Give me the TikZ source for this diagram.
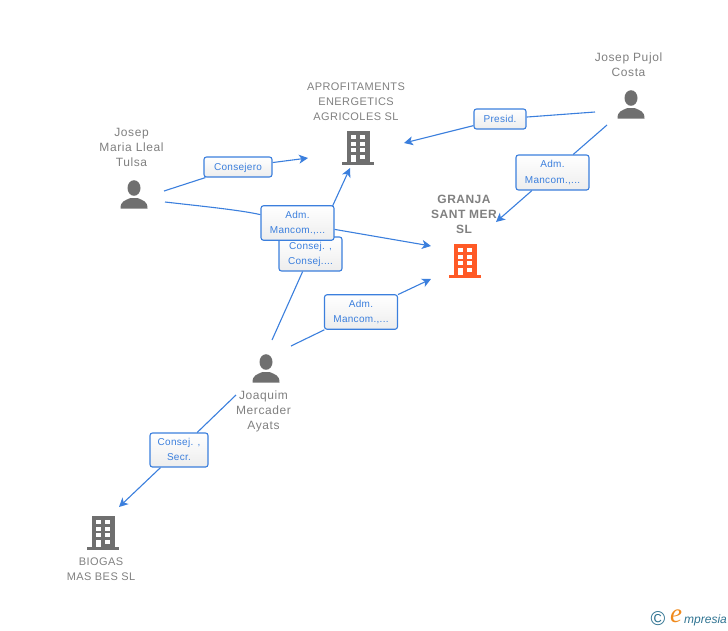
\documentclass[tikz,border=0pt]{standalone}
\usepackage{fontspec}
\setmainfont{Liberation Sans}
\newfontfamily\spacedfont[LetterSpace=4]{Liberation Sans}
\newfontfamily\widefont[LetterSpace=5]{Liberation Sans}
\newfontfamily\boxfont[LetterSpace=3]{Liberation Sans}
\newfontfamily\logoserif{Liberation Serif}
\usetikzlibrary{arrows.meta,backgrounds,shadings}
\definecolor{linkblue}{HTML}{3B7FDD}
\definecolor{textgray}{HTML}{808080}
\definecolor{icongray}{HTML}{6F6F6F}
\definecolor{iconorange}{HTML}{FF5A26}
\definecolor{logoteal}{HTML}{2F7391}
\definecolor{logoorange}{HTML}{F08A1D}
\newcommand{\tagtext}[1]{\raisebox{-1.2pt}{\begin{tabular}{@{}c@{}}#1\end{tabular}}}
\tikzset{
  x=1pt,y=-1pt,
  entity/.style={text=textgray,font=\fontsize{11}{15}\spacedfont,align=center,inner sep=0pt},
  personname/.style={text=textgray,font=\fontsize{12}{15}\widefont,align=center,inner sep=0pt},
  entitybold/.style={text=textgray,font=\fontsize{12}{15}\spacedfont\bfseries,align=center,inner sep=0pt},
  tagbox/.style={draw=linkblue,line width=1.1pt,rounded corners=2.5pt,top color=white,bottom color=white!93!black,
    text=linkblue,font=\fontsize{10}{15.5}\boxfont,inner sep=0pt,minimum width=#1},
  tagbox/.default=73pt,
  link/.style={draw=linkblue,line width=1.1pt},
  arrowlink/.style={link,-{Stealth[length=9pt,width=9pt,inset=2.5pt]}},
  pics/person/.style={code={
    \fill[icongray] (0,-7) ellipse (6.5 and 7.8);
    \fill[icongray] (-13.5,13.5) .. controls (-13.5,6) and (-9,5.5) .. (-3.5,3) -- (3.5,3) .. controls (9,5.5) and (13.5,6) .. (13.5,13.5) -- cycle;
  }},
  pics/building/.style={code={
    \fill[#1] (-11,0) rectangle (11.5,31);
    \fill[#1] (-16,31) rectangle (16,34);
    \foreach \yy in {4,11,17}{
      \fill[white] (-7,\yy) rectangle (-2.5,\yy+4);
      \fill[white] (2,\yy) rectangle (6.5,\yy+4);
    }
    \fill[white] (-7,24) rectangle (-2.5,31);
    \fill[white] (2,24) rectangle (6.5,28);
  }},
}
\begin{document}
\begin{tikzpicture}
\useasboundingbox (0,0) rectangle (728,630);
% icons
\pic at (134,195) {person};
\pic at (631,105) {person};
\pic at (266,369) {person};
\pic at (358,131) {building=icongray};
\pic at (465,244) {building=iconorange};
\pic at (103,516) {building=icongray};
% entity names
\node[personname] (lleal) at (131.5,147.5) {Josep\\Maria Lleal\\Tulsa};
\node[personname] (pujol) at (628.5,65) {Josep Pujol\\Costa};
\node[personname] (joaquim) at (263.5,411.5) {Joaquim\\Mercader\\Ayats};
\node[entity] (aprof) at (356,102) {APROFITAMENTS\\ENERGETICS\\AGRICOLES SL};
\node[entitybold] (granja) at (464,214.5) {GRANJA\\SANT MER\\SL};
\node[entity] (biogas) at (101,569) {BIOGAS\\MAS BES SL};
% tag boxes
\node[tagbox=63pt,minimum height=34pt] (tconsej) at (310.5,254) {\tagtext{Consej. ,\\Consej....}};
\node[tagbox=73pt,minimum height=34.5pt] (tadm) at (297.5,223) {\tagtext{Adm.\\Mancom.,...}};
\node[tagbox=68pt,minimum height=20pt] (tconsejero) at (238,167) {\tagtext{Consejero}};
\node[tagbox=73pt,minimum height=34.5pt] (tadmj) at (361,312) {\tagtext{Adm.\\Mancom.,...}};
\node[tagbox=52pt,minimum height=20pt] (tpresid) at (500,119) {\tagtext{Presid.}};
\node[tagbox=73pt,minimum height=35pt] (tadmp) at (552.5,172.5) {\tagtext{Adm.\\Mancom.,...}};
\node[tagbox=58pt,minimum height=34pt] (tsecr) at (179,450) {\tagtext{Consej. ,\\Secr.}};
% connector ends
\coordinate (lleal1) at (164,191);
\coordinate (lleal2) at (165,202);
\coordinate (joaq1) at (272,340);
\coordinate (joaq2) at (291,346);
\coordinate (joaq3) at (236,395);
\coordinate (puj1) at (595,112);
\coordinate (puj2) at (607,125);
\coordinate (toaprofa) at (308,158);
\coordinate (toaprofb) at (350,168);
\coordinate (toaprofc) at (404,143);
\coordinate (togranjaa) at (431,246);
\coordinate (togranjab) at (431,279);
\coordinate (togranjac) at (496,222);
\coordinate (tobiogas) at (119,507);
\begin{scope}[on background layer]
  \draw[link] (lleal1) -- (tconsejero);
  \draw[arrowlink] (tconsejero) -- (toaprofa);
  \draw[link] (lleal2) .. controls (200,206) and (240,210) .. (tadm);
  \draw[arrowlink] (tadm) -- (togranjaa);
  \draw[link] (joaq1) -- (tconsej);
  \draw[arrowlink] (tconsej) -- (toaprofb);
  \draw[link] (joaq2) -- (tadmj);
  \draw[arrowlink] (tadmj) -- (togranjab);
  \draw[link] (joaq3) -- (tsecr);
  \draw[arrowlink] (tsecr) -- (tobiogas);
  \draw[link] (puj1) -- (tpresid);
  \draw[arrowlink] (tpresid) -- (toaprofc);
  \draw[link] (puj2) -- (tadmp);
  \draw[arrowlink] (tadmp) -- (togranjac);
\end{scope}
% logo
\node[text=logoteal,font=\fontsize{20}{20}\selectfont,inner sep=0pt] (copy) at (658,619) {©};
\node[text=logoorange,font=\fontsize{27}{27}\logoserif\itshape,inner sep=0pt] (loge) at (676,616.5) {e};
\node[text=logoteal,font=\fontsize{12}{12}\selectfont\itshape,anchor=west,inner sep=0pt] (logt) at (684,620) {mpresia};
\end{tikzpicture}
\end{document}
